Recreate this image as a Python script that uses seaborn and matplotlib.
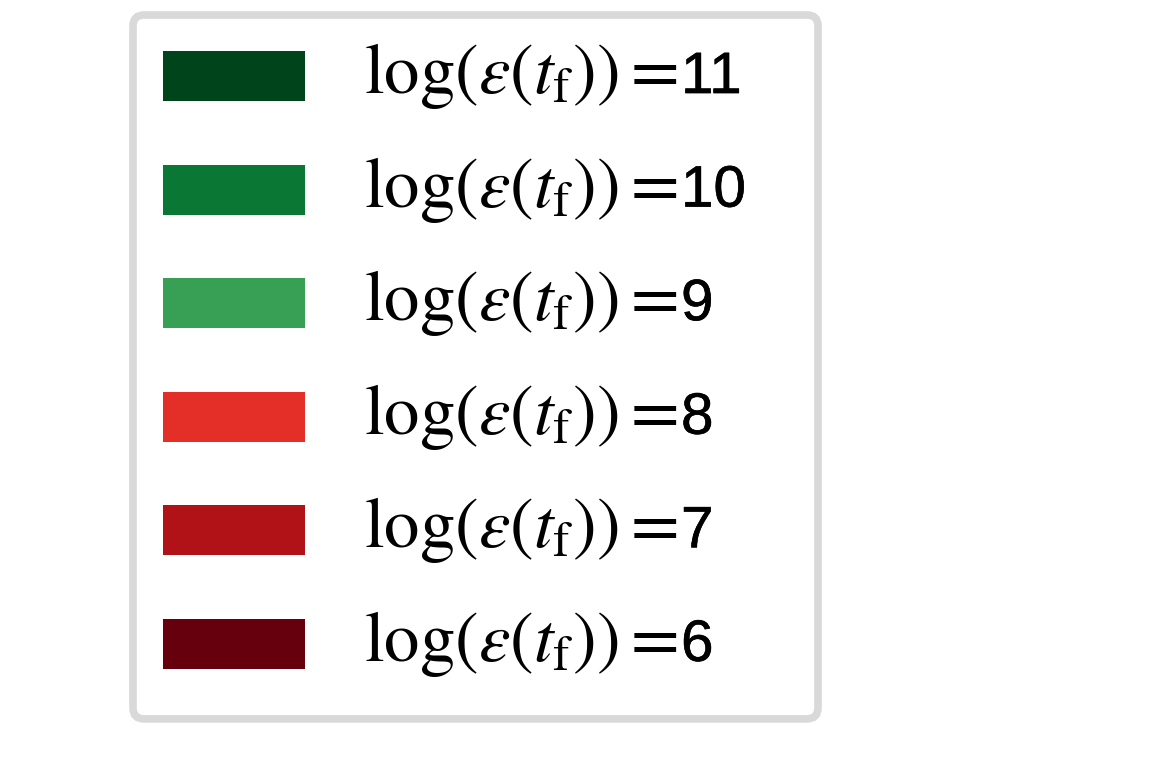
import matplotlib
matplotlib.use("Agg")
import matplotlib.pyplot as plt
import matplotlib.patheffects as pe
from matplotlib.patches import Patch, Rectangle, FancyBboxPatch
from matplotlib.legend_handler import HandlerPatch
from matplotlib.transforms import IdentityTransform
import seaborn as sns

levels = [11, 10, 9, 8, 7, 6]
colors = ["#00441b", "#0b7734", "#37a055", "#e32f27", "#b11218", "#67000d"]
math_label = r"\log(\varepsilon(t_\mathrm{f}))="

sns.set_theme(style="white")
plt.rcParams["font.family"] = ["Liberation Sans", "DejaVu Sans"]
plt.rcParams["mathtext.fontset"] = "stix"
plt.rcParams["text.color"] = "black"

MATH_FS = 51
DIGIT_FS = 42
W, H = 1163, 775
SHIFT_UP = 4  # px

fig = plt.figure(figsize=(W / 100, H / 100), dpi=100)
ax = fig.add_axes([0, 0, 1, 1])
ax.axis("off")


def make_rect(legend, orig_handle, xdescent, ydescent, width, height, fontsize):
    return Rectangle((-xdescent, -0.113 * fontsize), width, 0.706 * fontsize)


palette = sns.color_palette(colors)
handles = [Patch(facecolor=c, edgecolor="none") for c in palette]
labels = ["$" + math_label + "$" for _ in levels]
leg = fig.legend(handles, labels, loc="upper left",
                 bbox_to_anchor=(133 / W, 0, 685 / W, 1 - (15 - SHIFT_UP) / H),
                 mode="expand",
                 fontsize=MATH_FS, handlelength=2.006, handleheight=0.706,
                 labelspacing=0.615, handletextpad=0.83,
                 borderpad=0.424, borderaxespad=0,
                 frameon=False,
                 handler_map={Patch: HandlerPatch(patch_func=make_rect)})
leg.set_zorder(5)

fig.canvas.draw()
r = fig.canvas.get_renderer()

# rounded light-grey frame around the legend (a little extra room at the bottom)
bb = leg.get_window_extent(r)
extra_bottom = 10
frame = FancyBboxPatch((bb.x0, bb.y0 - extra_bottom), bb.width,
                       bb.height + extra_bottom - SHIFT_UP,
                       boxstyle="round,pad=0,rounding_size=11",
                       transform=IdentityTransform(), facecolor="white",
                       edgecolor="#d9d9d9", linewidth=5.5, zorder=4)
fig.add_artist(frame)

# numeric part of each label, in the sans-serif font
tmp = fig.text(0, 0, "$" + math_label + "$", fontsize=MATH_FS)
w = tmp.get_window_extent(r).width
tmp.remove()
gap = 4
for txt, v in zip(leg.get_texts(), levels):
    x, y = txt.get_transform().transform(txt.get_position())
    fig.text(x + w + gap, y, str(v), fontsize=DIGIT_FS, ha="left", va="baseline",
             transform=IdentityTransform(), color="black", zorder=6,
             path_effects=[pe.withStroke(linewidth=0.45, foreground="black")])

fig.savefig("out.png", dpi=100)
